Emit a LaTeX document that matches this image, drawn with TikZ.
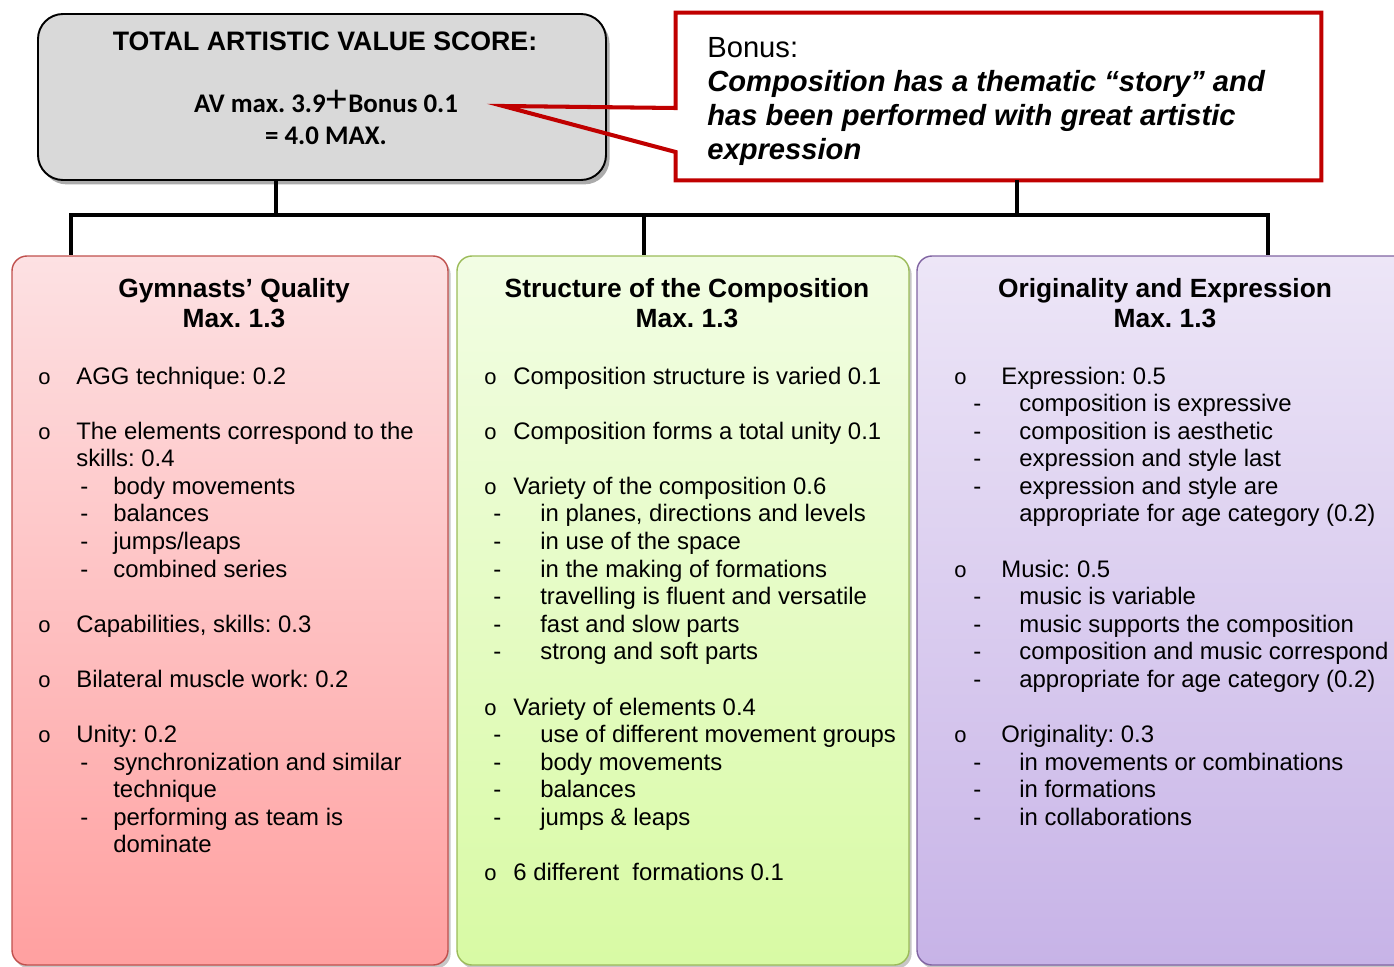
\documentclass[tikz,border=0pt]{standalone}
\usepackage{fontspec}
\setmainfont{Liberation Sans}
\newfontfamily\calibri{Carlito}
\usetikzlibrary{shadows}

\definecolor{bonusred}{HTML}{C00000}
\definecolor{totalgray}{HTML}{D9D9D9}
\definecolor{qualline}{HTML}{C0504D}
\definecolor{qualtop}{HTML}{FDE1E3}
\definecolor{qualbot}{HTML}{FFA0A0}
\definecolor{structline}{HTML}{9BBB59}
\definecolor{structtop}{HTML}{F2FDE4}
\definecolor{structbot}{HTML}{D8FAA4}
\definecolor{origline}{HTML}{8064A2}
\definecolor{origtop}{HTML}{EDE6F7}
\definecolor{origbot}{HTML}{C7B3E7}

\frenchspacing
% one picture unit = one pixel of the sheet
\newlength\px \setlength\px{0.02cm}
\newlength\bw \newlength\dx \newlength\dw
\newcommand{\ind}[3]{\setlength\bw{#1\px}\setlength\dx{#2\px}\setlength\dw{#3\px}}
\newcommand{\bul}[1]{\makebox[\bw][l]{\fontsize{12.5}{10}\selectfont o}#1}
\newcommand{\bcont}[1]{\hspace*{\bw}#1}
\newcommand{\dsh}[1]{\hspace*{\dx}\makebox[\dw][l]{-}#1}
\newcommand{\dcont}[1]{\hspace*{\dx}\hspace*{\dw}#1}
\newcommand{\gap}{\\[15.7pt]}

\begin{document}
\begin{tikzpicture}
    [x=0.02cm, y=-0.02cm,
    conn/.style={line width=2.8pt, black},
    topbox/.style={draw=black, line width=1.1pt, fill=totalgray, rounded corners=0.5cm,
        minimum width=568\px, minimum height=166\px, inner sep=0pt,
        drop shadow={shadow xshift=2pt, shadow yshift=-2.5pt, fill=black!55, opacity=.6}},
    bonusbox/.style={fill=white, minimum width=645\px, minimum height=167\px, inner sep=0pt},
    callout/.style={draw=bonusred, line width=2.3pt, line join=miter},
    catbox/.style={line width=0.8pt, rounded corners=0.3cm, minimum height=709\px, inner sep=0pt,
        drop shadow={shadow xshift=1.5pt, shadow yshift=-2pt, fill=black!50, opacity=.45}},
    head/.style={anchor=base, inner sep=0pt, font=\bfseries\fontsize{15}{17.6}\selectfont},
    list/.style={anchor=base west, inner sep=0pt, font=\fontsize{13.6}{15.7}\selectfont}]
    \useasboundingbox (0,0) rectangle (1394,967);
    \clip (0,0) rectangle (1394,967);

    % top row
    \node[topbox] (total) at (322,97) {};
    \node[anchor=base, inner sep=0pt, font=\bfseries\fontsize{15.2}{18}\selectfont] (totaltitle) at (325,50)
        {TOTAL ARTISTIC VALUE SCORE:};
    \node[anchor=base, inner sep=0pt, font=\calibri\bfseries\fontsize{15.3}{18.4}\selectfont] (totalsum) at (326,112)
        {\parbox[t]{400\px}{\centering AV max. 3.9{\fontsize{22}{18.4}\selectfont\mdseries\rmfamily +}Bonus 0.1\\= 4.0 MAX.}};

    \node[bonusbox] (bonus) at (998.5,96.5) {};
    \coordinate (tip) at (503,106);
    \draw[callout] (bonus.west |- 0,152) -- (bonus.south west) -- (bonus.south east)
        -- (bonus.north east) -- (bonus.north west) -- (bonus.west |- 0,108) -- (tip) -- cycle;
    \node[anchor=base west, inner sep=0pt, font=\fontsize{16.6}{19.3}\selectfont] (bonustext) at (707,57.5)
        {\parbox[t]{610\px}{Bonus:\\ \bfseries\itshape Composition has a thematic “story” and\\
        has been performed with great artistic\\expression}};

    % three categories
    \node[catbox, draw=qualline, top color=qualtop, bottom color=qualbot, minimum width=436\px] (qual) at (230,610.5) {};
    \node[catbox, draw=structline, top color=structtop, bottom color=structbot, minimum width=452\px] (struct) at (683,610.5) {};
    \node[catbox, draw=origline, top color=origtop, bottom color=origbot, minimum width=493\px] (orig) at (1163.5,610.5) {};

    % tree lines
    \coordinate (barL) at (71,215);
    \coordinate (barM) at (644,215);
    \coordinate (barR) at (1268,215);
    \draw[conn] ([xshift=-46\px]total.south) -- ([xshift=-46\px]total.south |- barL);
    \draw[conn] ([xshift=18.5\px]bonus.south) -- ([xshift=18.5\px]bonus.south |- barL);
    \draw[conn, line cap=rect] (barL) -- (barR);
    \draw[conn] (barL) -- (barL |- qual.north);
    \draw[conn] (barM) -- (barM |- struct.north);
    \draw[conn] (barR) -- (barR |- orig.north);

    % headings
    \node[head] (qualhead) at (234,297) {\parbox[t]{420\px}{\centering Gymnasts’ Quality\\Max. 1.3}};
    \node[head] (structhead) at (687,297) {\parbox[t]{440\px}{\centering Structure of the Composition\\Max. 1.3}};
    \node[head] (orighead) at (1165,297) {\parbox[t]{440\px}{\centering Originality and Expression\\Max. 1.3}};

    % lists
    \node[list] (quallist) at (38,384) {\parbox[t]{420\px}{\ind{38}{42}{33}\raggedright
        \bul{AGG technique: 0.2}\gap
        \bul{The elements correspond to the}\\
        \bcont{skills: 0.4}\\
        \dsh{body movements}\\
        \dsh{balances}\\
        \dsh{jumps/leaps}\\
        \dsh{combined series}\gap
        \bul{Capabilities, skills: 0.3}\gap
        \bul{Bilateral muscle work: 0.2}\gap
        \bul{Unity: 0.2}\\
        \dsh{synchronization and similar}\\
        \dcont{technique}\\
        \dsh{performing as team is}\\
        \dcont{dominate}}};
    \node[list] (structlist) at (484,384) {\parbox[t]{440\px}{\ind{29}{9}{47}\raggedright
        \bul{Composition structure is varied 0.1}\gap
        \bul{Composition forms a total unity 0.1}\gap
        \bul{Variety of the composition 0.6}\\
        \dsh{in planes, directions and levels}\\
        \dsh{in use of the space}\\
        \dsh{in the making of formations}\\
        \dsh{travelling is fluent and versatile}\\
        \dsh{fast and slow parts}\\
        \dsh{strong and soft parts}\gap
        \bul{Variety of elements 0.4}\\
        \dsh{use of different movement groups}\\
        \dsh{body movements}\\
        \dsh{balances}\\
        \dsh{jumps \& leaps}\gap
        \bul{6 different\ \ formations 0.1}}};
    \node[list] (origlist) at (954,384) {\parbox[t]{480\px}{\ind{47}{19}{46}\raggedright
        \bul{Expression: 0.5}\\
        \dsh{composition is expressive}\\
        \dsh{composition is aesthetic}\\
        \dsh{expression and style last}\\
        \dsh{expression and style are}\\
        \dcont{appropriate for age category (0.2)}\gap
        \bul{Music: 0.5}\\
        \dsh{music is variable}\\
        \dsh{music supports the composition}\\
        \dsh{composition and music correspond}\\
        \dsh{appropriate for age category (0.2)}\gap
        \bul{Originality: 0.3}\\
        \dsh{in movements or combinations}\\
        \dsh{in formations}\\
        \dsh{in collaborations}}};
\end{tikzpicture}
\end{document}
